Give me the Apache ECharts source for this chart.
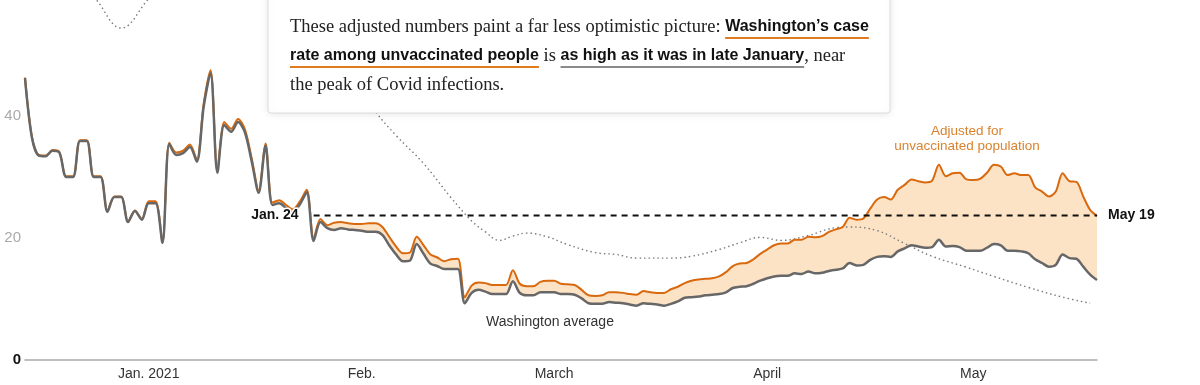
<!DOCTYPE html>
<html><head><meta charset="utf-8">
<script src="https://cdn.jsdelivr.net/npm/echarts@6/dist/echarts.min.js"></script>
<style>html,body{margin:0;padding:0;background:#fff}#c{width:1200px;height:385px}</style>
</head><body><div id="c"></div>
<script>
// ---------- data ----------
const startDay = [2020, 11, 14]; // Dec 14, 2020 = day 0 (daily values)
const grayValues = [
46.2,36.5,33.5,33.4,34.3,34.0,30.0,30.0,35.9,35.9,
30.0,30.0,24.3,26.7,26.7,22.6,24.4,23.0,25.7,25.7,
19.2,35.4,33.6,33.9,34.9,32.5,41.5,47.0,30.7,38.5,
37.4,39.0,37.3,32.5,27.4,35.1,25.4,25.7,24.9,24.2,
25.5,27.5,19.5,22.6,21.6,21.3,21.6,21.4,21.3,21.2,
21.0,21.0,20.5,18.8,17.3,16.2,16.3,19.0,17.4,15.8,
15.4,14.9,14.9,14.9,9.3,11.0,11.5,11.2,10.8,10.8,
10.8,12.9,11.0,10.6,10.6,11.1,11.1,11.1,10.8,10.8,
10.7,10.1,9.3,9.2,9.2,9.5,9.4,9.3,9.1,8.9,
9.3,9.2,9.1,8.9,9.2,9.6,10.2,10.3,10.4,10.6,
10.7,10.8,11.1,11.8,12.0,12.1,12.5,13.0,13.4,13.7,
13.8,13.8,14.2,14.1,14.5,14.2,14.3,14.6,14.8,15.0,
15.9,15.5,15.6,16.4,16.9,17.0,16.9,17.8,18.3,18.8,
18.6,18.4,18.5,19.7,18.6,18.7,18.5,17.9,17.9,17.9,
18.4,19.0,18.8,17.9,17.9,17.8,17.5,16.5,15.9,15.3,
15.6,17.3,16.7,16.6,15.3,14.0,13.1
];
const orangeValues = [
46.3,36.6,33.6,33.5,34.4,34.1,30.1,30.1,36.0,36.0,
30.1,30.1,24.4,26.8,26.8,22.7,24.5,23.1,26.0,26.0,
19.3,35.6,34.0,34.3,35.3,32.8,42.0,47.5,31.0,39.0,
37.9,39.5,37.8,33.0,27.8,35.5,25.8,26.2,25.4,24.7,
26.0,27.9,19.9,23.1,22.1,22.5,22.6,22.4,22.3,22.3,
22.4,22.4,21.8,20.2,18.6,17.5,17.6,20.2,18.8,17.3,
16.8,16.2,16.5,16.6,10.3,12.2,12.7,12.6,12.3,12.3,
12.3,14.7,12.5,12.1,12.1,12.8,13.0,13.0,12.5,12.4,
12.3,11.5,10.6,10.5,10.6,11.1,11.1,11.0,10.8,10.7,
11.3,11.1,11.0,11.0,11.6,12.0,12.6,13.0,13.2,13.3,
13.4,13.7,14.4,15.4,15.8,15.9,16.5,17.4,18.1,18.8,
19.1,19.1,19.7,19.7,20.2,20.1,20.3,21.0,21.4,21.8,
23.3,23.0,23.2,24.8,26.3,26.7,26.3,27.9,28.7,29.6,
29.3,29.1,29.4,32.0,30.1,30.6,30.7,29.6,29.5,29.7,
30.7,32.0,31.7,30.3,30.6,30.3,30.3,28.3,27.6,26.8,
27.6,30.6,29.3,29.2,26.8,24.6,23.6
];
const dotDays   = [0,4,8,10,14,18,22,27,32,37,42,47,51,54,58,62,65,67,69,71,73,76,79,83,86,89,94,97,101,104,107,110,114,118,120,124,128,132,137,141,146,151,155];
const dotValues = [72,66,61,59.5,54.4,59.2,64,68,69,65,57,47,40.7,36.8,32.2,26.6,22.8,21.0,19.6,20.3,20.8,20.2,18.9,17.6,17.3,16.7,16.7,17.0,18.1,19.2,20.1,19.6,20.4,21.7,21.8,21.2,19.1,17.0,15.2,13.7,11.9,10.3,9.3];
const refValue = 23.7, refStartDay = 42, refEndDay = 156;
const refStartLabel = 'Jan. 24', refEndLabel = 'May 19';
const monthLabels = ['Jan. 2021', 'Feb.', 'March', 'April', 'May'];
const yTicks = [0, 20, 40];
const adjustedLabel = ['Adjusted for', 'unvaccinated population'];
const averageLabel = 'Washington average';
const noteLines = [
  [{t:'These adjusted numbers paint a far less optimistic picture: ', s:'serif'}, {t:'Washington\u2019s case', s:'bold', u:'#e07b1f'}],
  [{t:'rate among unvaccinated people', s:'bold', u:'#e07b1f'}, {t:' is ', s:'serif'}, {t:'as high as it was in late January', s:'bold', u:'#8a8a8a'}, {t:', near', s:'serif'}],
  [{t:'the peak of Covid infections.', s:'serif'}]
];

// ---------- build ----------
const ts = d => new Date(startDay[0], startDay[1], startDay[2] + d).getTime();
const grayPairs = grayValues.map((v, i) => [ts(i), v]);
const orangePairs = orangeValues.map((v, i) => [ts(i), v]);
const diffPairs = orangeValues.map((v, i) => [ts(i), +(v - grayValues[i]).toFixed(2)]);
const dotPairs = dotDays.map((d, i) => [ts(d), dotValues[i]]);
const monthLabelFor = v => {
  const d = new Date(v);
  if (d.getDate() !== 1 || d.getFullYear() !== 2021) return '';
  return monthLabels[d.getMonth()] || '';
};

const SANS = '"Liberation Sans", Arial, sans-serif';
const fonts = {
  serif: {size: 18.5, weight: 'normal', family: '"Liberation Serif", "DejaVu Serif", serif', color: '#222'},
  bold:  {size: 16, weight: 'bold', family: '"Liberation Sans Narrow", "Liberation Sans", Arial, sans-serif', color: '#111'}
};
const ctx = document.createElement('canvas').getContext('2d');
const graphics = [{
  type: 'rect', z: 100,
  shape: {x: 268, y: -10, width: 622, height: 123, r: 3},
  style: {fill: '#fff', stroke: '#dcdcdc', lineWidth: 1, shadowBlur: 8, shadowColor: 'rgba(0,0,0,0.10)', shadowOffsetY: 1}
}];
const lineY = [27, 56, 85];
noteLines.forEach((segs, li) => {
  let x = 290;
  segs.forEach(sg => {
    const f = fonts[sg.s];
    const font = f.weight + ' ' + f.size + 'px ' + f.family;
    ctx.font = font;
    const w = ctx.measureText(sg.t).width;
    graphics.push({type: 'text', z: 101, x: x, y: lineY[li],
      style: {text: sg.t, fill: f.color, font: font, textAlign: 'left', textVerticalAlign: 'middle'}});
    if (sg.u) graphics.push({type: 'rect', z: 101, shape: {x: x, y: lineY[li] + 10, width: w, height: 2}, style: {fill: sg.u}});
    x += w;
  });
});
graphics.push({type: 'text', z: 50, x: 967, y: 138.5,
  style: {text: adjustedLabel.join('\n'), fill: '#d9822e', font: '13.5px ' + SANS, textAlign: 'center', textVerticalAlign: 'middle', lineHeight: 15}});
graphics.push({type: 'text', z: 50, x: 550, y: 322,
  style: {text: averageLabel, fill: '#333', font: '14px ' + SANS, textAlign: 'center', textVerticalAlign: 'middle'}});

const smooth = 0.3;
const chart = echarts.init(document.getElementById('c'));
chart.setOption({
  animation: false,
  grid: {left: 25, right: 103, top: 0, bottom: 25},
  xAxis: {
    type: 'time', min: ts(0), max: ts(refEndDay),
    axisLine: {lineStyle: {color: '#aaa', width: 1.5}},
    axisTick: {show: false}, splitLine: {show: false},
    axisLabel: {
      color: '#333', fontSize: 14, fontFamily: SANS, margin: 7, hideOverlap: false,
      formatter: v => monthLabelFor(v)
    }
  },
  yAxis: {
    type: 'value', min: 0, max: 59, interval: 20,
    splitLine: {show: false}, axisLine: {show: false}, axisTick: {show: false},
    axisLabel: {
      showMaxLabel: false, margin: 4,
      formatter: v => yTicks.indexOf(v) < 0 ? '' : (v === 0 ? '{z|0}' : '{g|' + v + '}'),
      rich: {
        z: {fontWeight: 'bold', color: '#111', fontSize: 15, fontFamily: SANS},
        g: {color: '#aaa', fontSize: 15, fontFamily: SANS}
      }
    }
  },
  graphic: graphics,
  series: [
    {name: 'base', type: 'line', stack: 'band', data: grayPairs, symbol: 'none', smooth, lineStyle: {width: 0, opacity: 0}, silent: true},
    {name: 'band', type: 'line', stack: 'band', data: diffPairs, symbol: 'none', smooth, lineStyle: {width: 0, opacity: 0}, areaStyle: {color: '#fde3c5', opacity: 1}, silent: true},
    {name: 'dotted', type: 'line', data: dotPairs, symbol: 'none', smooth: 0.4, lineStyle: {color: '#7a7a7a', width: 1.4, type: [1.5, 3]}},
    {name: 'Adjusted for unvaccinated population', type: 'line', data: orangePairs, symbol: 'none', smooth, lineStyle: {color: '#d8690f', width: 2}},
    {name: 'Washington average', type: 'line', data: grayPairs, symbol: 'none', smooth, lineStyle: {color: '#676767', width: 2.5}},
    {name: 'ref', type: 'line', symbol: 'circle', symbolSize: 2, showSymbol: true,
      itemStyle: {color: 'rgba(0,0,0,0)', borderWidth: 0},
      lineStyle: {color: '#111', width: 2, type: [6, 5]},
      labelLayout: {hideOverlap: false},
      label: {show: true, fontWeight: 'bold', fontSize: 14, color: '#111', fontFamily: SANS, textBorderColor: '#fff', textBorderWidth: 3},
      data: [
        {value: [ts(refStartDay), refValue], label: {show: true, position: 'left', distance: 14, formatter: refStartLabel}},
        {value: [ts(refEndDay), refValue], label: {show: true, position: 'right', distance: 10, formatter: refEndLabel}}
      ]}
  ]
});
</script></body></html>
